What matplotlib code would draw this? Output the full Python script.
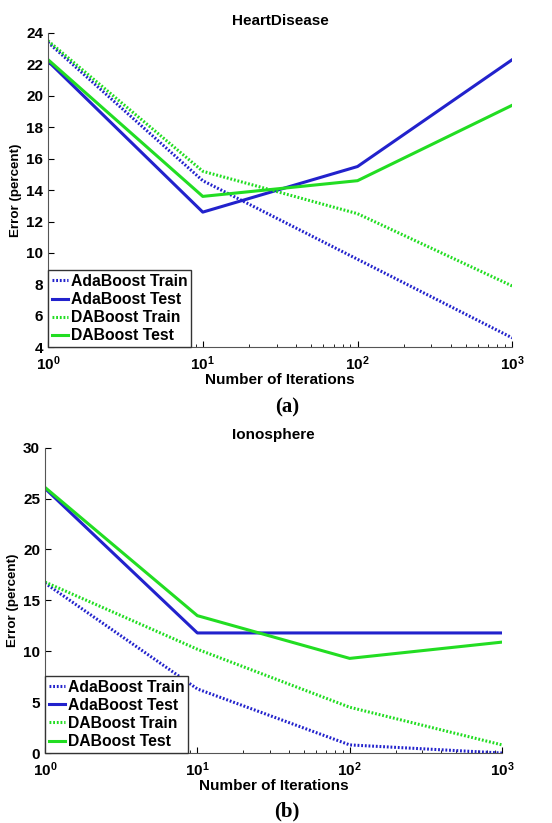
import numpy as np
import matplotlib
matplotlib.use("Agg")
import matplotlib.pyplot as plt

plt.rcParams['font.family'] = ['Liberation Sans', 'DejaVu Sans']
plt.rcParams['font.weight'] = 'bold'

iters = [1, 10, 100, 1000]
labels = ['AdaBoost Train', 'AdaBoost Test', 'DABoost Train', 'DABoost Test']

# HeartDisease
heart_ada_train = [23.4, 14.6, 9.6, 4.6]
heart_ada_test = [22.2, 12.6, 15.5, 22.3]
heart_da_train = [23.5, 15.2, 12.5, 7.9]
heart_da_test = [22.3, 13.6, 14.6, 19.4]

# Ionosphere
iono_ada_train = [16.7, 6.3, 0.8, 0.0]
iono_ada_test = [26.0, 11.8, 11.8, 11.8]
iono_da_train = [16.8, 10.2, 4.5, 0.8]
iono_da_test = [26.1, 13.5, 9.3, 10.9]

blue = '#2222cc'
green = '#22dd22'
dots = (0, (0.6, 0.6))

fig = plt.figure(figsize=(5.52, 8.23), dpi=100)
ax1 = fig.add_axes([0.087, 0.578, 0.841, 0.382])
ax2 = fig.add_axes([0.0815, 0.085, 0.828, 0.371])


def draw(ax, series, title, ylim, yticks):
    styles = [(blue, dots), (blue, '-'), (green, dots), (green, '-')]
    for vals, (c, ls), lab in zip(series, styles, labels):
        ax.plot(iters, vals, color=c, linestyle=ls, linewidth=2.2, label=lab)
    ax.set_xscale('log')
    ax.set_xlim(1, 1000)
    ax.set_ylim(*ylim)
    ax.set_yticks(yticks)
    ax.set_xticks(iters)
    ax.tick_params(direction='in', labelsize=11, width=0.8, length=4)
    ax.tick_params(axis='x', pad=5)
    ax.tick_params(which='minor', direction='in', length=2.5, width=0.6)
    for t in ax.get_xticklabels() + ax.get_yticklabels():
        t.set_fontweight('bold')
    ax.spines['top'].set_visible(False)
    ax.spines['right'].set_visible(False)
    ax.spines['left'].set_color('#555555')
    ax.spines['bottom'].set_color('#555555')
    ax.set_title(title, fontsize=11, fontweight='bold', pad=6)
    ax.set_xlabel('Number of Iterations', fontsize=11, fontweight='bold', labelpad=0)
    ax.set_ylabel('Error (percent)', fontsize=9.6, fontweight='bold', labelpad=3)
    leg = ax.legend(loc='lower left', fontsize=11.3, frameon=True, fancybox=False,
                    handlelength=1.0, handletextpad=0.2, borderpad=0.25,
                    labelspacing=0.2, borderaxespad=0.0, framealpha=1)
    leg.get_frame().set_edgecolor('#333333')
    leg.get_frame().set_linewidth(1.0)
    for t in leg.get_texts():
        t.set_fontweight('bold')


draw(ax1, [heart_ada_train, heart_ada_test, heart_da_train, heart_da_test],
     'HeartDisease', (4, 24), np.arange(4, 25, 2))
draw(ax2, [iono_ada_train, iono_ada_test, iono_da_train, iono_da_test],
     'Ionosphere', (0, 30), np.arange(0, 31, 5))

fig.text(0.52, 1 - 407 / 823, '(a)', ha='center', va='center', fontsize=15,
         fontweight='bold', family=['Liberation Serif', 'DejaVu Serif'])
fig.text(0.52, 1 - 811 / 823, '(b)', ha='center', va='center', fontsize=15,
         fontweight='bold', family=['Liberation Serif', 'DejaVu Serif'])

fig.savefig('out.png', dpi=100)
